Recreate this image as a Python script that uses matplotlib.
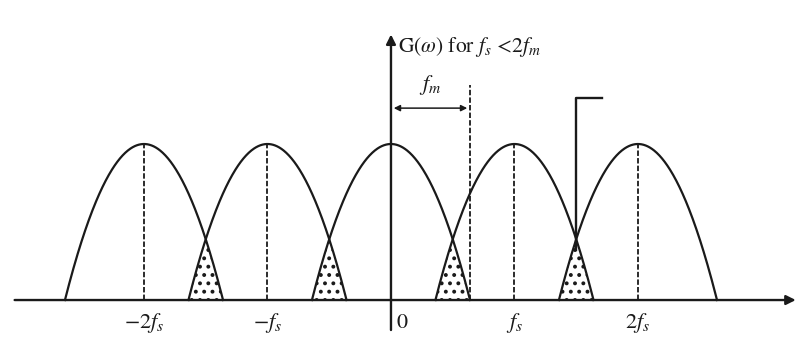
import matplotlib.pyplot as plt
import numpy as np

# Spectrum of a sampled signal with aliasing (fs < 2 fm), in units of fs
centers = [-2, -1, 0, 1, 2]
center_labels = [r"$-2f_s$", r"$-f_s$", "0", r"$f_s$", r"$2f_s$"]
fm = 0.64          # message bandwidth relative to fs
peak = 1.0         # lobe height

plt.rcParams["mathtext.fontset"] = "stix"
plt.rcParams["font.family"] = "STIXGeneral"
plt.rcParams["hatch.linewidth"] = 1.6

ink = "#1a1a1a"

fig = plt.figure(figsize=(7.99, 3.64), dpi=100)
ax = fig.add_axes([0, 0, 1, 1])
ax.set_xlim(-3.166, 3.304)
ax.set_ylim(-0.41, 1.923)
ax.axis("off")


def lobe(x, c):
    return peak * np.clip(1 - ((x - c) / fm) ** 2, 0, None)


# spectral lobes with dashed centre lines
for c in centers:
    xs = np.linspace(c - fm, c + fm, 300)
    ax.plot(xs, lobe(xs, c), color=ink, lw=1.6)
    if c != 0:
        ax.plot([c, c], [0, peak], color=ink, lw=1.3, ls=(0, (3, 1.2)))

# dotted overlap (aliasing) regions
for c in centers[:-1]:
    xs = np.linspace(c + 1 - fm, c + fm, 100)
    ys = np.minimum(lobe(xs, c), lobe(xs, c + 1))
    ax.fill_between(xs, 0, ys, facecolor="none", edgecolor=ink,
                    hatch="..", lw=0)

# axes with arrows
ax.annotate("", xy=(3.30, 0), xytext=(-3.07, 0),
            arrowprops=dict(arrowstyle="-|>", color=ink, lw=1.7,
                            mutation_scale=14))
ax.annotate("", xy=(0, 1.72), xytext=(0, -0.21),
            arrowprops=dict(arrowstyle="-|>", color=ink, lw=1.7,
                            mutation_scale=14))
ax.text(0.06, 1.62, r"G($\omega$) for $f_s$ <2$f_m$", fontsize=15.5,
        va="center", ha="left", color=ink)

# fm marker
ax.plot([fm, fm], [0, 1.38], color=ink, lw=1.3, ls=(0, (3, 1.2)))
ax.annotate("", xy=(fm, 1.23), xytext=(0, 1.23),
            arrowprops=dict(arrowstyle="<|-|>", color=ink, lw=1.1,
                            mutation_scale=9))
ax.text(fm / 2, 1.30, r"$f_m$", fontsize=16, ha="center", va="bottom",
        color=ink)

# filter edge mark at the fs / 2fs crossover
ax.plot([1.71, 1.5, 1.5], [1.295, 1.295, 0.32], color=ink, lw=1.7)

# frequency labels
for c, lab in zip(centers, center_labels):
    xoff = 0.09 if c == 0 else 0
    ax.text(c + xoff, -0.15, lab, fontsize=16, ha="center", va="center",
            color=ink)

fig.savefig("out.png", dpi=100, facecolor="white")
